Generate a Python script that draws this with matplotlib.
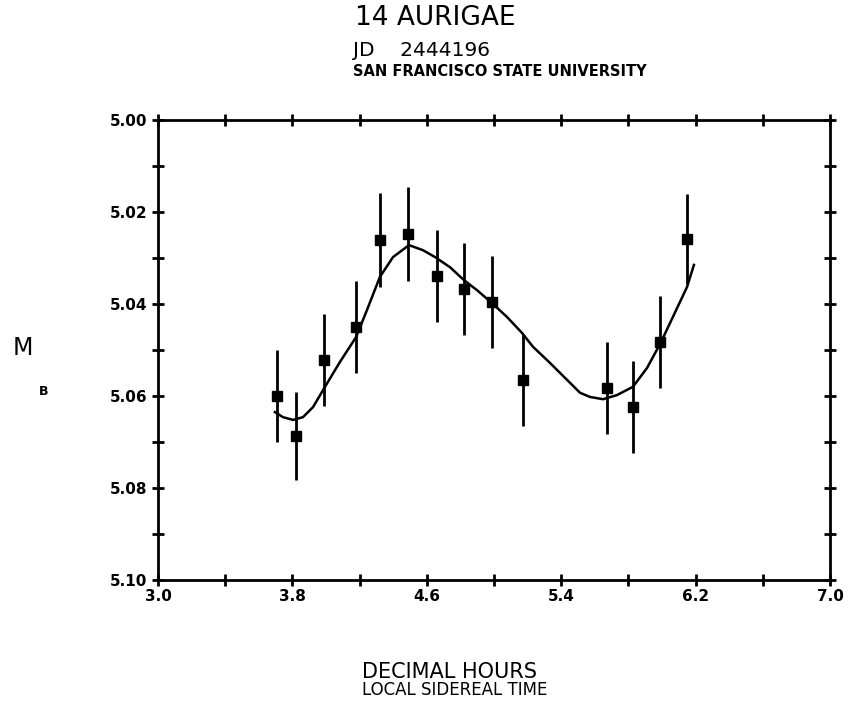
import numpy as np
import matplotlib
matplotlib.use("Agg")
import matplotlib.pyplot as plt

# observaciones (hora sideral local, magnitud B)
horas = [3.71, 3.82, 3.99, 4.18, 4.32, 4.49, 4.66, 4.82, 4.99, 5.17, 5.67, 5.83, 5.99, 6.15]
mag = [5.0600, 5.0687, 5.0522, 5.0450, 5.0261, 5.0248, 5.0339, 5.0367, 5.0396,
       5.0565, 5.0583, 5.0624, 5.0483, 5.0259]
err = [0.010, 0.0095, 0.010, 0.010, 0.0102, 0.0102, 0.010, 0.010, 0.010,
       0.010, 0.010, 0.010, 0.010, 0.0098]

# curva ajustada
curva_x = [3.696, 3.744, 3.804, 3.863, 3.923, 3.994, 4.083, 4.179, 4.244, 4.321,
           4.399, 4.494, 4.577, 4.649, 4.738, 4.821, 4.899, 4.988, 5.077, 5.167,
           5.232, 5.333, 5.435, 5.512, 5.571, 5.649, 5.732, 5.827, 5.911, 5.994,
           6.065, 6.149, 6.190]
curva_y = [5.0635, 5.0646, 5.0652, 5.0646, 5.0624, 5.0580, 5.0526, 5.0472, 5.0413, 5.0341,
           5.0298, 5.0272, 5.0283, 5.0298, 5.0320, 5.0348, 5.0370, 5.0398, 5.0428, 5.0463,
           5.0493, 5.0528, 5.0565, 5.0593, 5.0602, 5.0607, 5.0598, 5.0580, 5.0539, 5.0483,
           5.0428, 5.0363, 5.0315]

xticks_lab = ["3.0", "3.8", "4.6", "5.4", "6.2", "7.0"]
yticks_lab = ["5.00", "5.02", "5.04", "5.06", "5.08", "5.10"]

W, H = 854, 704
fig = plt.figure(figsize=(W / 100, H / 100), dpi=100)
ax = fig.add_axes([158 / W, 1 - 580 / H, 672 / W, 460 / H])

ax.plot(curva_x, curva_y, color="black", lw=1.8, solid_joinstyle="round")
ax.errorbar(horas, mag, yerr=err, fmt="s", color="black", ms=6.5, elinewidth=2, capsize=0)

ax.set_xlim(3.0, 7.0)
ax.set_ylim(5.10, 5.00)

ax.set_xticks(np.arange(3.0, 7.01, 0.8))
ax.set_xticks(np.arange(3.0, 7.01, 0.4), minor=True)
ax.set_xticklabels(xticks_lab)
ax.set_yticks(np.arange(5.00, 5.101, 0.02))
ax.set_yticks(np.arange(5.00, 5.101, 0.01), minor=True)
ax.set_yticklabels(yticks_lab)

for lado in ax.spines.values():
    lado.set_linewidth(2)
ax.tick_params(which="both", direction="inout", length=9, width=2,
               top=True, right=True)
ax.tick_params(axis="x", which="major", labelsize=11, pad=2)
ax.tick_params(axis="y", which="major", labelsize=11, pad=3)
for t in ax.get_xticklabels() + ax.get_yticklabels():
    t.set_fontweight("bold")

# titulos
fig.text(355 / W, 1 - 18 / H, "14 AURIGAE", fontsize=19, ha="left", va="center")
fig.text(353 / W, 1 - 50 / H, "JD    2444196", fontsize=14.5, ha="left", va="center")
fig.text(353 / W, 1 - 72 / H, "SAN FRANCISCO STATE UNIVERSITY", fontsize=10.5,
         fontweight="bold", ha="left", va="center")

fig.text(362 / W, 1 - 672 / H, "DECIMAL HOURS", fontsize=15, ha="left", va="center")
fig.text(362 / W, 1 - 690 / H, "LOCAL SIDEREAL TIME", fontsize=12, ha="left", va="center")

fig.text(23 / W, 1 - 348 / H, "M", fontsize=17, ha="center", va="center")
fig.text(44 / W, 1 - 392 / H, "B", fontsize=9, fontweight="bold", ha="center", va="center")

fig.savefig("out.png", dpi=100, facecolor="white")
